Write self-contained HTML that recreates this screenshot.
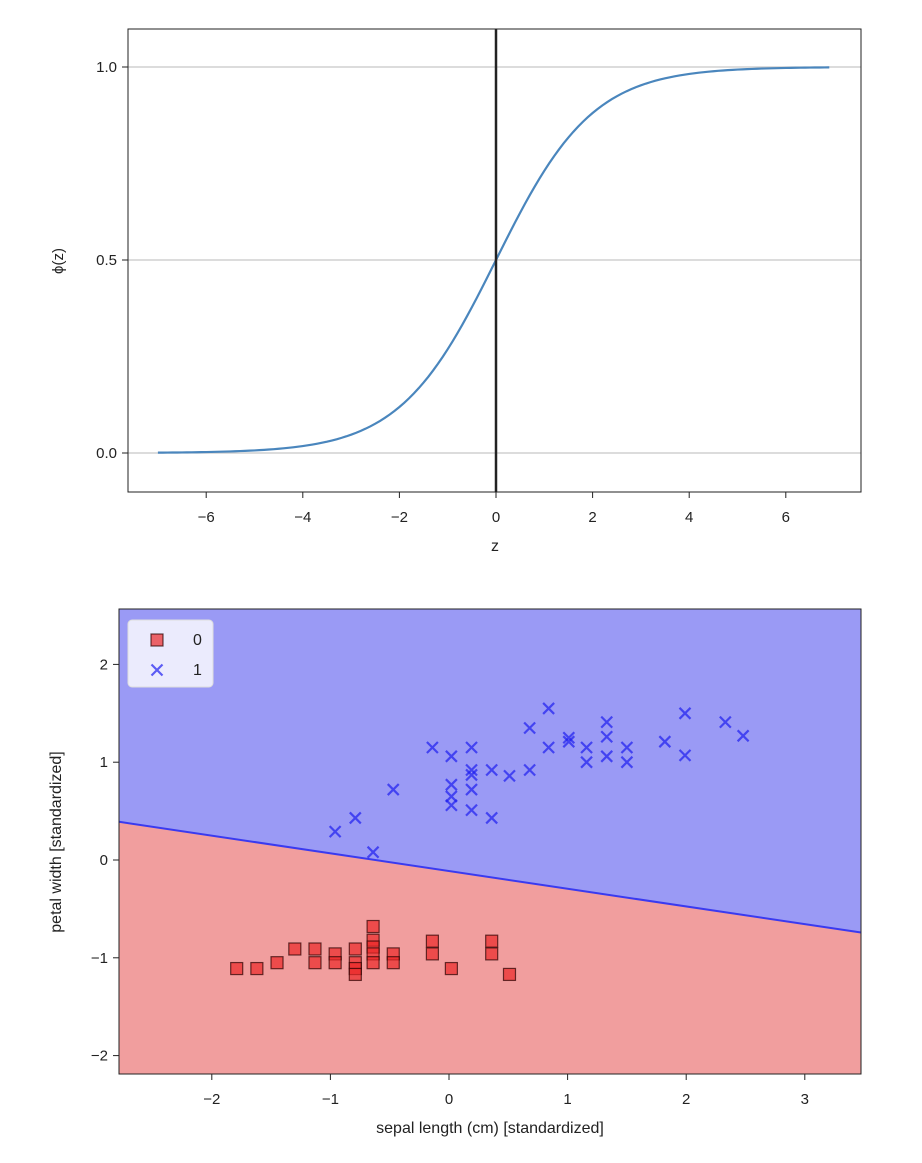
<!DOCTYPE html>
<html><head><meta charset="utf-8"><style>
body{margin:0;background:#fff;}
svg text{font-family:"Liberation Sans","DejaVu Sans",sans-serif;fill:#222;}
</style></head><body>
<svg id="svg" width="922" height="1158" xmlns="http://www.w3.org/2000/svg">
</svg>
<script>
// ---- top chart data ----
const zStart = -7, zEnd = 7, zStep = 0.1;
const topXTicks = [-6,-4,-2,0,2,4,6];
const topYTicks = [0.0,0.5,1.0];
const topYTickLabels = ['0.0','0.5','1.0'];
// ---- bottom chart data ----
const class0X = [-1.79,-1.62,-1.45,-1.30,-1.13,-1.13,-0.96,-0.96,-0.79,-0.79,-0.79,-0.79,-0.64,-0.64,-0.64,-0.64,-0.64,-0.47,-0.47,-0.14,-0.14,0.02,0.36,0.36,0.51];
const class0Y = [-1.11,-1.11,-1.05,-0.91,-0.91,-1.05,-0.96,-1.05,-0.91,-1.05,-1.11,-1.17,-0.68,-0.82,-0.89,-0.96,-1.05,-0.96,-1.05,-0.83,-0.96,-1.11,-0.83,-0.96,-1.17];
const class1X = [-0.96,-0.79,-0.64,-0.47,-0.14,0.02,0.02,0.02,0.02,0.19,0.19,0.19,0.19,0.19,0.36,0.36,0.51,0.68,0.68,0.84,0.84,1.01,1.01,1.16,1.16,1.33,1.33,1.33,1.50,1.50,1.82,1.99,1.99,2.33,2.48];
const class1Y = [0.29,0.43,0.08,0.72,1.15,1.06,0.77,0.65,0.56,1.15,0.92,0.87,0.72,0.51,0.92,0.43,0.86,0.92,1.35,1.55,1.15,1.25,1.21,1.15,1.00,1.41,1.26,1.06,1.15,1.00,1.21,1.50,1.07,1.41,1.27];
const boundarySlope = -0.181, boundaryIntercept = -0.113;
const botXTicks = [-2,-1,0,1,2,3];
const botYTicks = [-2,-1,0,1,2];

const NS='http://www.w3.org/2000/svg';
const svg=document.getElementById('svg');
function mk(tag,attrs,parent){const e=document.createElementNS(NS,tag);for(const k in attrs)e.setAttribute(k,attrs[k]);(parent||svg).appendChild(e);return e;}
function fmt(v){return v<0?'\u2212'+Math.abs(v):String(v);}

// ---- top chart ----
const T={l:128,r:861,t:29,b:492};
const tx=z=>496+z*48.3;
const ty=v=>453-v*386;
const topG=mk('g',{});


topYTicks.forEach((v,i)=>{
  const g=mk('line',{x1:T.l,x2:T.r,y1:ty(v),y2:ty(v),stroke:'#c8c8c8','stroke-width':1.2},topG);
  
  
  mk('line',{x1:T.l-6,x2:T.l,y1:ty(v),y2:ty(v),stroke:'#222'},topG);
  const t=mk('text',{x:T.l-11,y:ty(v)+5,'text-anchor':'end','font-size':15},topG);
  t.textContent=topYTickLabels[i];
  
  
});
topXTicks.forEach(v=>{
  mk('line',{x1:tx(v),x2:tx(v),y1:T.b,y2:T.b+6,stroke:'#222'},topG);
  const t=mk('text',{x:tx(v),y:T.b+30,'text-anchor':'middle','font-size':15},topG);
  t.textContent=fmt(v);
  
  
});
let pts=[];
for(let z=zStart;z<zEnd-1e-9;z+=zStep){pts.push(tx(z).toFixed(2)+','+ty(1/(1+Math.exp(-z))).toFixed(2));}
const curve=mk('polyline',{points:pts.join(' '),fill:'none',stroke:'#4a86bd','stroke-width':2.2},topG);


const vline=mk('line',{x1:tx(0),x2:tx(0),y1:T.t,y2:T.b,stroke:'#222','stroke-width':2.5},topG);


mk('rect',{x:T.l,y:T.t,width:T.r-T.l,height:T.b-T.t,fill:'none',stroke:'#222','stroke-width':1},topG);
const txl=mk('text',{x:495,y:551,'text-anchor':'middle','font-size':16},topG);
txl.textContent='z';


const tyl=mk('text',{x:0,y:0,'text-anchor':'middle','font-size':15,transform:'translate(63,261) rotate(-90)'},topG);
tyl.textContent='\u03d5(z)';



// ---- bottom chart ----
const B={l:119,r:861,t:609,b:1074};
const bx=v=>449+v*118.6;
const by=v=>860-v*97.8;
const botG=mk('g',{});


const xmin=(B.l-449)/118.6, xmax=(B.r-449)/118.6;
const bl=boundaryIntercept+boundarySlope*xmin, br=boundaryIntercept+boundarySlope*xmax;
const blue=mk('rect',{x:B.l,y:B.t,width:B.r-B.l,height:B.b-B.t,fill:'#9a9af5'},botG);


const red=mk('polygon',{points:`${B.l},${by(bl)} ${B.r},${by(br)} ${B.r},${B.b} ${B.l},${B.b}`,fill:'#f19e9e'},botG);


const bline=mk('line',{x1:B.l,y1:by(bl),x2:B.r,y2:by(br),stroke:'#3a3af0','stroke-width':2},botG);


class0X.forEach((x,i)=>{
  const r=mk('rect',{x:bx(x)-6,y:by(class0Y[i])-6,width:12,height:12,fill:'rgba(235,40,40,0.7)',stroke:'rgba(40,0,0,0.7)','stroke-width':1.2},botG);
  
  
});
class1X.forEach((x,i)=>{
  const cx=bx(x),cy=by(class1Y[i]);
  const p=mk('path',{d:`M${cx-5.5},${cy-5.5}L${cx+5.5},${cy+5.5}M${cx-5.5},${cy+5.5}L${cx+5.5},${cy-5.5}`,stroke:'rgba(30,30,240,0.7)','stroke-width':2.2},botG);
  
  
});
botYTicks.forEach(v=>{
  mk('line',{x1:B.l-6,x2:B.l,y1:by(v),y2:by(v),stroke:'#222'},botG);
  const t=mk('text',{x:B.l-11,y:by(v)+5,'text-anchor':'end','font-size':15},botG);
  t.textContent=fmt(v);
  
  
});
botXTicks.forEach(v=>{
  mk('line',{x1:bx(v),x2:bx(v),y1:B.b,y2:B.b+6,stroke:'#222'},botG);
  const t=mk('text',{x:bx(v),y:B.b+30,'text-anchor':'middle','font-size':15},botG);
  t.textContent=fmt(v);
  
  
});
mk('rect',{x:B.l,y:B.t,width:B.r-B.l,height:B.b-B.t,fill:'none',stroke:'#222','stroke-width':1},botG);
const bxl=mk('text',{x:490,y:1133,'text-anchor':'middle','font-size':16},botG);
bxl.textContent='sepal length (cm) [standardized]';


const byl=mk('text',{x:0,y:0,'text-anchor':'middle','font-size':16,transform:'translate(61,842) rotate(-90)'},botG);
byl.textContent='petal width [standardized]';


// legend
const lg=mk('g',{},botG);


mk('rect',{x:128,y:620,width:85,height:67,rx:4,fill:'rgba(255,255,255,0.8)',stroke:'#ddd'},lg);
const l0=mk('rect',{x:151,y:634,width:12,height:12,fill:'rgba(235,40,40,0.7)',stroke:'rgba(40,0,0,0.7)','stroke-width':1.2},lg);


const lt0=mk('text',{x:193,y:645,'font-size':16},lg);lt0.textContent='0';


const l1=mk('path',{d:'M151.5,664.5L162.5,675.5M151.5,675.5L162.5,664.5',stroke:'rgba(30,30,240,0.7)','stroke-width':2.2},lg);


const lt1=mk('text',{x:193,y:675,'font-size':16},lg);lt1.textContent='1';


</script>
</body></html>
